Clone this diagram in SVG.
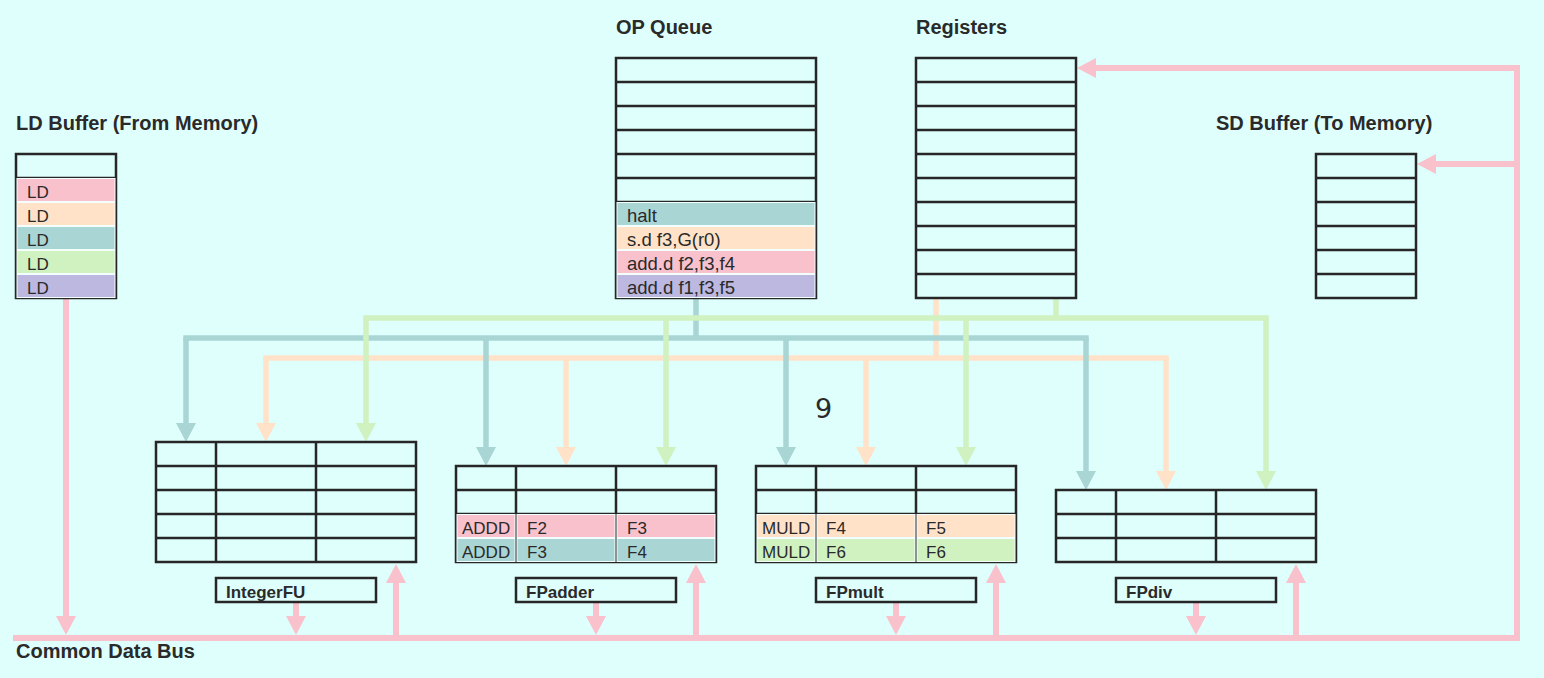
<svg xmlns="http://www.w3.org/2000/svg" width="1544" height="678" viewBox="0 0 1544 678">
<style>
.bg{fill:#dffffd}
.tbl{fill:none;stroke:#262626;stroke-width:2.5}
.lbl{fill:none;stroke:#262626;stroke-width:2.5}
.title{font-family:"Liberation Sans",Arial,sans-serif;font-weight:bold;font-size:20px;fill:#2a2a2a}
.fu{font-family:"Liberation Sans",Arial,sans-serif;font-weight:bold;font-size:17px;fill:#2a2a2a}
.cell{font-family:"Liberation Sans",Arial,sans-serif;font-size:17px;fill:#2a2a2a}
.op{font-family:"Liberation Sans",Arial,sans-serif;font-size:18.5px;fill:#2a2a2a}
.num{font-family:"DejaVu Sans",sans-serif;font-size:27px;fill:#2a2a2a}
.c{stroke:#f2fffe;stroke-width:1}
.pink{fill:#f9c1cb}
.peach{fill:#ffe2c8}
.teal{fill:#a9d5d5}
.green{fill:#d0f1c0}
.purple{fill:#bcb8e0}
.wp{fill:none;stroke:#f9c1cb;stroke-width:6}
.wt{fill:none;stroke:#a9d5d5;stroke-width:5.5}
.wg{fill:none;stroke:#d0f1c0;stroke-width:5.5}
.wo{fill:none;stroke:#ffe2c8;stroke-width:5.5}
.sq{stroke-linecap:square}
</style>
<defs>
<marker id="ap" viewBox="0 0 19 20" refX="0" refY="10" markerWidth="19" markerHeight="20" markerUnits="userSpaceOnUse" orient="auto"><path d="M0,0L19,10L0,20z" fill="#f9c1cb"/></marker>
<marker id="at" viewBox="0 0 19 20" refX="0" refY="10" markerWidth="19" markerHeight="20" markerUnits="userSpaceOnUse" orient="auto"><path d="M0,0L19,10L0,20z" fill="#a9d5d5"/></marker>
<marker id="ag" viewBox="0 0 19 20" refX="0" refY="10" markerWidth="19" markerHeight="20" markerUnits="userSpaceOnUse" orient="auto"><path d="M0,0L19,10L0,20z" fill="#d0f1c0"/></marker>
<marker id="ao" viewBox="0 0 19 20" refX="0" refY="10" markerWidth="19" markerHeight="20" markerUnits="userSpaceOnUse" orient="auto"><path d="M0,0L19,10L0,20z" fill="#ffe2c8"/></marker>
</defs>
<rect class="bg" x="0" y="0" width="1544" height="678"/>

<g id="connectors">
  <!-- peach (from registers) -->
  <path class="wo" d="M936,298V358"/>
  <path class="wo sq" d="M266,358H1166"/>
  <path class="wo" d="M266,358V423" marker-end="url(#ao)"/>
  <path class="wo" d="M566,358V447" marker-end="url(#ao)"/>
  <path class="wo" d="M866,358V447" marker-end="url(#ao)"/>
  <path class="wo" d="M1166,358V471" marker-end="url(#ao)"/>
  <!-- teal (from OP queue) -->
  <path class="wt" d="M696,298V338"/>
  <path class="wt sq" d="M186,338H1086"/>
  <path class="wt" d="M186,338V423" marker-end="url(#at)"/>
  <path class="wt" d="M486,338V447" marker-end="url(#at)"/>
  <path class="wt" d="M786,338V447" marker-end="url(#at)"/>
  <path class="wt" d="M1086,338V471" marker-end="url(#at)"/>
  <!-- green (from registers) -->
  <path class="wg" d="M1056,298V318"/>
  <path class="wg sq" d="M366,318H1266"/>
  <path class="wg" d="M366,318V423" marker-end="url(#ag)"/>
  <path class="wg" d="M666,318V447" marker-end="url(#ag)"/>
  <path class="wg" d="M966,318V447" marker-end="url(#ag)"/>
  <path class="wg" d="M1266,318V471" marker-end="url(#ag)"/>
  <!-- common data bus -->
  <path class="wp" d="M13,638H1517V68H1096" marker-end="url(#ap)" stroke-linejoin="miter"/>
  <path class="wp" d="M1517,164H1436" marker-end="url(#ap)"/>
  <path class="wp" d="M66,298V616" marker-end="url(#ap)"/>
  <path class="wp" d="M296,602V616" marker-end="url(#ap)"/>
  <path class="wp" d="M596,602V616" marker-end="url(#ap)"/>
  <path class="wp" d="M896,602V616" marker-end="url(#ap)"/>
  <path class="wp" d="M1196,602V616" marker-end="url(#ap)"/>
  <path class="wp" d="M396,638V583" marker-end="url(#ap)"/>
  <path class="wp" d="M696,638V583" marker-end="url(#ap)"/>
  <path class="wp" d="M996,638V583" marker-end="url(#ap)"/>
  <path class="wp" d="M1296,638V583" marker-end="url(#ap)"/>
</g>

<g id="ld-buffer">
  <text class="title" x="16" y="130">LD Buffer (From Memory)</text>
  <rect class="tbl" x="16" y="154" width="100" height="144"/>
  <path class="tbl" d="M16,178H116M16,202H116M16,226H116M16,250H116M16,274H116"/>
  <rect class="c pink" x="17" y="178.5" width="98" height="23"/>
  <rect class="c peach" x="17" y="202.5" width="98" height="23"/>
  <rect class="c teal" x="17" y="226.5" width="98" height="23"/>
  <rect class="c green" x="17" y="250.5" width="98" height="23"/>
  <rect class="c purple" x="17" y="274.5" width="98" height="23"/>
  <text class="cell" x="27" y="197.5">LD</text>
  <text class="cell" x="27" y="221.5">LD</text>
  <text class="cell" x="27" y="245.5">LD</text>
  <text class="cell" x="27" y="269.5">LD</text>
  <text class="cell" x="27" y="293.5">LD</text>
</g>

<g id="op-queue">
  <text class="title" x="616" y="34">OP Queue</text>
  <rect class="tbl" x="616" y="58" width="200" height="240"/>
  <path class="tbl" d="M616,82H816M616,106H816M616,130H816M616,154H816M616,178H816M616,202H816M616,226H816M616,250H816M616,274H816"/>
  <rect class="c teal" x="617" y="202.5" width="198" height="23"/>
  <rect class="c peach" x="617" y="226.5" width="198" height="23"/>
  <rect class="c pink" x="617" y="250.5" width="198" height="23"/>
  <rect class="c purple" x="617" y="274.5" width="198" height="23"/>
  <text class="op" x="627" y="222">halt</text>
  <text class="op" x="627" y="246">s.d f3,G(r0)</text>
  <text class="op" x="627" y="270">add.d f2,f3,f4</text>
  <text class="op" x="627" y="294">add.d f1,f3,f5</text>
</g>

<g id="registers">
  <text class="title" x="916" y="34">Registers</text>
  <rect class="tbl" x="916" y="58" width="160" height="240"/>
  <path class="tbl" d="M916,82H1076M916,106H1076M916,130H1076M916,154H1076M916,178H1076M916,202H1076M916,226H1076M916,250H1076M916,274H1076"/>
</g>

<g id="sd-buffer">
  <text class="title" x="1216" y="130">SD Buffer (To Memory)</text>
  <rect class="tbl" x="1316" y="154" width="100" height="144"/>
  <path class="tbl" d="M1316,178H1416M1316,202H1416M1316,226H1416M1316,250H1416M1316,274H1416"/>
</g>

<g id="integer-fu">
  <rect class="tbl" x="156" y="442" width="260" height="120"/>
  <path class="tbl" d="M156,466H416M156,490H416M156,514H416M156,538H416M216,442V562M316,442V562"/>
  <rect class="lbl" x="216" y="578" width="160" height="24"/>
  <text class="fu" x="226" y="597.5">IntegerFU</text>
</g>

<g id="fp-adder">
  <rect class="tbl" x="456" y="466" width="260" height="96"/>
  <path class="tbl" d="M456,490H716M456,514H716M456,538H716M516,466V562M616,466V562"/>
  <rect class="c pink" x="457" y="514.5" width="58" height="23"/>
  <rect class="c pink" x="517" y="514.5" width="98" height="23"/>
  <rect class="c pink" x="617" y="514.5" width="98" height="23"/>
  <rect class="c teal" x="457" y="538.5" width="58" height="23"/>
  <rect class="c teal" x="517" y="538.5" width="98" height="23"/>
  <rect class="c teal" x="617" y="538.5" width="98" height="23"/>
  <text class="cell" x="462" y="534">ADDD</text>
  <text class="cell" x="527" y="534">F2</text>
  <text class="cell" x="627" y="534">F3</text>
  <text class="cell" x="462" y="558">ADDD</text>
  <text class="cell" x="527" y="558">F3</text>
  <text class="cell" x="627" y="558">F4</text>
  <rect class="lbl" x="516" y="578" width="160" height="24"/>
  <text class="fu" x="526" y="597.5">FPadder</text>
</g>

<g id="fp-mult">
  <rect class="tbl" x="756" y="466" width="260" height="96"/>
  <path class="tbl" d="M756,490H1016M756,514H1016M756,538H1016M816,466V562M916,466V562"/>
  <rect class="c peach" x="757" y="514.5" width="58" height="23"/>
  <rect class="c peach" x="817" y="514.5" width="98" height="23"/>
  <rect class="c peach" x="917" y="514.5" width="98" height="23"/>
  <rect class="c green" x="757" y="538.5" width="58" height="23"/>
  <rect class="c green" x="817" y="538.5" width="98" height="23"/>
  <rect class="c green" x="917" y="538.5" width="98" height="23"/>
  <text class="cell" x="762" y="534">MULD</text>
  <text class="cell" x="826" y="534">F4</text>
  <text class="cell" x="926" y="534">F5</text>
  <text class="cell" x="762" y="558">MULD</text>
  <text class="cell" x="826" y="558">F6</text>
  <text class="cell" x="926" y="558">F6</text>
  <rect class="lbl" x="816" y="578" width="160" height="24"/>
  <text class="fu" x="826" y="597.5">FPmult</text>
</g>

<g id="fp-div">
  <rect class="tbl" x="1056" y="490" width="260" height="72"/>
  <path class="tbl" d="M1056,514H1316M1056,538H1316M1116,490V562M1216,490V562"/>
  <rect class="lbl" x="1116" y="578" width="160" height="24"/>
  <text class="fu" x="1126" y="597.5">FPdiv</text>
</g>

<g id="bus-label">
  <text class="title" x="16" y="658">Common Data Bus</text>
</g>

<text class="num" x="815" y="418">9</text>
</svg>
